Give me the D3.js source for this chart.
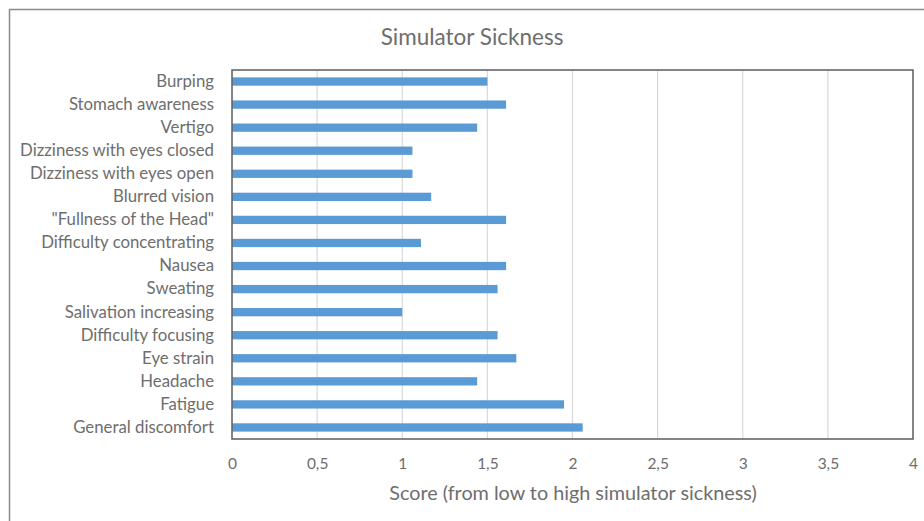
<!DOCTYPE html>
<html><head><meta charset="utf-8">
<script src="https://cdn.jsdelivr.net/npm/d3@7"></script>
<style>body{margin:0;background:#fff;}svg{display:block;}</style>
</head><body>
<svg id="c" width="924" height="521"></svg>
<script>
const categories = ["Burping","Stomach awareness","Vertigo","Dizziness with eyes closed","Dizziness with eyes open","Blurred vision","\"Fullness of the Head\"","Difficulty concentrating","Nausea","Sweating","Salivation increasing","Difficulty focusing","Eye strain","Headache","Fatigue","General discomfort"];
const values = [1.50,1.61,1.44,1.06,1.06,1.17,1.61,1.11,1.61,1.56,1.00,1.56,1.67,1.44,1.95,2.06];
const xTicks = [0,0.5,1,1.5,2,2.5,3,3.5,4];
const title = "Simulator Sickness";
const xTitle = "Score (from low to high simulator sickness)";

const font = "Lato, 'Open Sans', sans-serif";
const txt = "#6e6e6e";
const svg = d3.select("#c");
const L=232, R=913, T=70, B=439;

svg.append("rect").attr("x",9.5).attr("y",9.5).attr("width",930).attr("height",530)
  .attr("fill","#fff").attr("stroke","#8a8a8a").attr("stroke-width",1.5);

const x = d3.scaleLinear().domain([0,4]).range([L,R]);
const y = d3.scaleBand().domain(categories).range([T,B]).paddingInner(0.64).paddingOuter(0.32);

// gridlines
svg.append("g").selectAll("line").data(xTicks.slice(1,-1)).join("line")
  .attr("x1",d=>x(d)).attr("x2",d=>x(d)).attr("y1",T).attr("y2",B)
  .attr("stroke","#d9d9d9").attr("stroke-width",1.2);

// bars
svg.append("g").selectAll("rect").data(values).join("rect")
  .attr("x",x(0)).attr("y",(d,i)=>y(categories[i]))
  .attr("width",d=>x(d)-x(0)).attr("height",y.bandwidth())
  .attr("fill","#5b9bd5");

// frame
svg.append("rect").attr("x",L).attr("y",T).attr("width",R-L).attr("height",B-T)
  .attr("fill","none").attr("stroke","#666").attr("stroke-width",1.6);

// y labels
const yAxis = d3.axisLeft(y).tickSize(0).tickPadding(18);
const gy = svg.append("g").attr("transform",`translate(${L},0)`).call(yAxis);
gy.select(".domain").remove();
gy.selectAll("text").attr("fill",txt).style("font-family",font).style("font-size","16.8px");

// x labels
const xAxis = d3.axisBottom(x).tickValues(xTicks).tickSize(0).tickPadding(19)
  .tickFormat(d=>String(d).replace(".",","));
const gx = svg.append("g").attr("transform",`translate(0,${B})`).call(xAxis);
gx.select(".domain").remove();
gx.selectAll("text").attr("fill",txt).style("font-family",font).style("font-size","15.5px");

svg.append("text").attr("x",472).attr("y",45).attr("text-anchor","middle")
  .attr("fill",txt).style("font-family",font).style("font-size","22.5px").text(title);
svg.append("text").attr("x",573).attr("y",500).attr("text-anchor","middle")
  .attr("fill",txt).style("font-family",font).style("font-size","19.8px").text(xTitle);
</script>
</body></html>
